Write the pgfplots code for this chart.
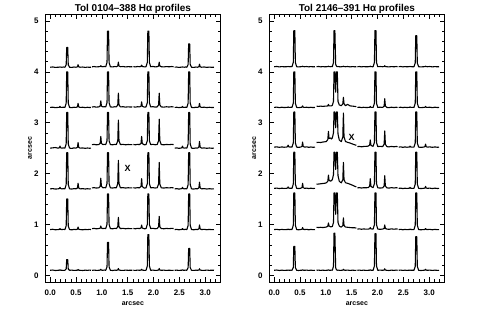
\documentclass[border=0pt]{standalone}
\usepackage{fontspec}
\setmainfont{Liberation Sans}
\usepackage{pgfplots}
\usepackage{pgfplotstable}
\pgfplotsset{compat=1.18}

\pgfplotstableread{
x y0 y1 y2 y3 y4 y5
0.00 0.100 0.900 1.700 2.500 3.300 4.090
0.05 0.105 0.906 1.705 2.506 3.305 4.095
0.10 0.095 0.896 1.696 2.512 3.296 4.086
0.15 0.100 0.900 1.700 2.500 3.300 4.090
0.178 0.102 0.903 1.705 2.506 3.303 4.091
0.19 0.110 0.920 1.730 2.540 3.320 4.095
0.202 0.102 0.903 1.705 2.506 3.303 4.091
0.23 0.100 0.900 1.700 2.500 3.300 4.090
0.255 0.097 0.905 1.704 2.505 3.305 4.094
0.285 0.100 0.900 1.700 2.500 3.300 4.090
0.31 0.125 0.972 1.785 2.584 3.384 4.137
0.32 0.310 1.500 2.410 3.200 4.000 4.480
0.34 0.310 1.500 2.410 3.200 4.000 4.480
0.35 0.125 0.972 1.785 2.584 3.384 4.137
0.375 0.100 0.900 1.700 2.500 3.300 4.090
0.42 0.104 0.895 1.696 2.495 3.296 4.086
0.46 0.097 0.904 1.705 2.505 3.304 4.094
0.50 0.100 0.900 1.700 2.500 3.300 4.090
0.528 0.102 0.908 1.717 2.517 3.312 4.098
0.54 0.115 0.950 1.810 2.610 3.380 4.140
0.552 0.102 0.908 1.717 2.517 3.312 4.098
0.58 0.100 0.900 1.700 2.500 3.300 4.090
0.63 0.096 0.896 1.704 2.504 3.304 4.094
0.68 0.103 0.903 1.697 2.496 3.296 4.086
0.72 0.098 0.898 1.703 2.503 3.303 4.093
0.76 0.104 0.905 1.698 2.498 3.298 4.088
0.79 0.100 0.900 1.700 2.500 3.300 4.090
0.80 nan nan nan nan nan nan
0.81 0.098 0.918 1.718 2.568 3.308 4.098
0.85 0.104 0.924 1.724 2.574 3.314 4.104
0.89 0.099 0.915 1.716 2.566 3.306 4.096
0.94 0.100 0.920 1.720 2.570 3.310 4.100
0.968 0.103 0.928 1.749 2.594 3.328 4.103
0.98 0.120 0.970 1.910 2.730 3.430 4.120
0.992 0.103 0.928 1.749 2.594 3.328 4.103
1.02 0.100 0.920 1.720 2.570 3.310 4.100
1.045 0.105 0.924 1.725 2.575 3.315 4.105
1.075 0.100 0.920 1.720 2.570 3.310 4.100
1.10 0.166 1.002 1.803 2.645 3.393 4.184
1.11 0.650 1.600 2.410 3.200 4.000 4.800
1.13 0.650 1.600 2.410 3.200 4.000 4.800
1.14 0.166 1.002 1.803 2.645 3.393 4.184
1.165 0.100 0.920 1.720 2.570 3.310 4.100
1.21 0.096 0.915 1.716 2.566 3.306 4.096
1.25 0.103 0.925 1.724 2.574 3.314 4.104
1.28 0.100 0.920 1.720 2.570 3.310 4.100
1.308 0.105 0.953 1.801 2.642 3.350 4.114
1.32 0.135 1.140 2.260 3.050 3.580 4.190
1.332 0.105 0.953 1.801 2.642 3.350 4.114
1.36 0.100 0.920 1.720 2.570 3.310 4.100
1.41 0.097 0.924 1.724 2.574 3.314 4.104
1.46 0.104 0.916 1.716 2.566 3.306 4.096
1.51 0.099 0.922 1.722 2.572 3.312 4.102
1.55 0.102 0.918 1.718 2.568 3.308 4.098
1.59 0.100 0.920 1.720 2.570 3.310 4.100
1.60 nan nan nan nan nan nan
1.61 0.101 0.922 1.722 2.572 3.312 4.102
1.65 0.097 0.916 1.716 2.566 3.306 4.096
1.69 0.104 0.924 1.724 2.574 3.314 4.104
1.73 0.100 0.920 1.720 2.570 3.310 4.100
1.758 0.103 0.931 1.747 2.594 3.325 4.105
1.77 0.120 0.990 1.900 2.730 3.410 4.130
1.782 0.103 0.931 1.747 2.594 3.325 4.105
1.81 0.100 0.920 1.720 2.570 3.310 4.100
1.83 0.098 0.915 1.716 2.566 3.306 4.096
1.855 0.100 0.920 1.720 2.570 3.310 4.100
1.88 0.184 1.002 1.803 2.645 3.393 4.184
1.89 0.800 1.600 2.410 3.200 4.000 4.800
1.91 0.800 1.600 2.410 3.200 4.000 4.800
1.92 0.184 1.002 1.803 2.645 3.393 4.184
1.945 0.100 0.920 1.720 2.570 3.310 4.100
1.99 0.104 0.925 1.724 2.575 3.315 4.105
2.03 0.098 0.917 1.717 2.567 3.307 4.097
2.07 0.100 0.920 1.720 2.570 3.310 4.100
2.098 0.105 0.956 1.795 2.645 3.350 4.114
2.11 0.135 1.160 2.220 3.070 3.580 4.190
2.122 0.105 0.956 1.795 2.645 3.350 4.114
2.15 0.100 0.920 1.720 2.570 3.310 4.100
2.20 0.103 0.916 1.716 2.566 3.306 4.096
2.25 0.097 0.923 1.723 2.573 3.313 4.103
2.30 0.102 0.918 1.718 2.568 3.308 4.098
2.35 0.098 0.924 1.724 2.574 3.314 4.104
2.39 0.100 0.920 1.720 2.570 3.310 4.100
2.40 nan nan nan nan nan nan
2.41 0.100 0.900 1.700 2.500 3.300 4.090
2.45 0.103 0.904 1.704 2.505 3.304 4.094
2.49 0.097 0.896 1.696 2.496 3.296 4.086
2.52 0.100 0.900 1.700 2.500 3.300 4.090
2.548 0.102 0.903 1.705 2.506 3.303 4.092
2.56 0.110 0.920 1.730 2.540 3.320 4.100
2.572 0.102 0.903 1.705 2.506 3.303 4.092
2.60 0.100 0.900 1.700 2.500 3.300 4.090
2.62 0.104 0.906 1.705 2.505 3.305 4.095
2.645 0.100 0.900 1.700 2.500 3.300 4.090
2.67 0.152 0.984 1.785 2.584 3.384 4.145
2.68 0.530 1.600 2.410 3.200 4.000 4.550
2.70 0.530 1.600 2.410 3.200 4.000 4.550
2.71 0.152 0.984 1.785 2.584 3.384 4.145
2.735 0.100 0.900 1.700 2.500 3.300 4.090
2.78 0.097 0.896 1.696 2.496 3.296 4.086
2.82 0.103 0.904 1.704 2.504 3.304 4.094
2.85 0.100 0.900 1.700 2.500 3.300 4.090
2.878 0.105 0.914 1.720 2.520 3.312 4.099
2.89 0.130 0.990 1.830 2.630 3.380 4.150
2.902 0.105 0.914 1.720 2.520 3.312 4.099
2.93 0.100 0.900 1.700 2.500 3.300 4.090
2.98 0.098 0.905 1.705 2.505 3.305 4.095
3.03 0.104 0.897 1.697 2.497 3.297 4.087
3.08 0.099 0.903 1.703 2.503 3.303 4.093
3.13 0.102 0.898 1.698 2.498 3.298 4.088
3.17 0.100 0.900 1.700 2.500 3.300 4.090
}\lefttab

\pgfplotstableread{
x y0 y1 y2 y3 y4 y5
0.00 0.100 0.900 1.710 2.520 3.300 4.100
0.05 0.105 0.905 1.715 2.525 3.306 4.105
0.10 0.096 0.896 1.706 2.516 3.296 4.096
0.15 0.103 0.904 1.713 2.524 3.304 4.103
0.19 0.098 0.898 1.708 2.518 3.298 4.098
0.23 0.100 0.900 1.710 2.520 3.300 4.100
0.258 0.101 0.902 1.715 2.526 3.302 4.101
0.27 0.105 0.910 1.740 2.560 3.310 4.105
0.282 0.101 0.902 1.715 2.526 3.302 4.101
0.31 0.100 0.900 1.710 2.520 3.300 4.100
0.325 0.104 0.905 1.714 2.524 3.305 4.104
0.345 0.100 0.900 1.710 2.520 3.300 4.100
0.37 0.156 0.986 1.795 2.603 3.384 4.185
0.38 0.570 1.620 2.420 3.210 4.000 4.810
0.40 0.570 1.620 2.420 3.210 4.000 4.810
0.41 0.156 0.986 1.795 2.603 3.384 4.185
0.435 0.100 0.900 1.710 2.520 3.300 4.100
0.47 0.096 0.896 1.706 2.516 3.296 4.096
0.51 0.100 0.900 1.710 2.520 3.300 4.100
0.538 0.102 0.906 1.725 2.535 3.305 4.102
0.55 0.110 0.940 1.810 2.620 3.330 4.110
0.562 0.102 0.906 1.725 2.535 3.305 4.102
0.59 0.100 0.900 1.710 2.520 3.300 4.100
0.63 0.104 0.905 1.714 2.525 3.304 4.104
0.67 0.097 0.896 1.706 2.516 3.297 4.097
0.71 0.103 0.904 1.713 2.523 3.303 4.103
0.75 0.098 0.898 1.707 2.517 3.298 4.098
0.79 0.100 0.900 1.710 2.520 3.300 4.100
0.805 nan nan nan nan nan nan
0.82 0.100 0.945 1.790 2.610 3.325 4.100
0.86 0.104 0.940 1.795 2.615 3.320 4.105
0.90 0.097 0.945 1.800 2.610 3.326 4.097
0.94 0.103 0.940 1.805 2.620 3.320 4.103
0.98 0.098 0.945 1.810 2.625 3.325 4.098
1.01 0.100 0.950 1.820 2.630 3.325 4.100
1.038 0.102 0.965 1.850 2.670 3.330 4.102
1.05 0.110 1.030 1.970 2.830 3.360 4.110
1.062 0.102 0.970 1.870 2.690 3.330 4.102
1.09 0.100 0.955 1.850 2.700 3.330 4.100
1.105 0.104 0.955 1.860 2.680 3.330 4.104
1.125 0.100 0.960 1.880 2.700 3.340 4.100
1.148 0.180 1.040 1.980 2.800 3.420 4.180
1.158 0.830 1.620 2.420 3.210 4.000 4.810
1.175 0.830 1.620 2.420 3.210 4.000 4.810
1.19 0.150 1.200 2.080 2.900 3.600 4.150
1.205 0.110 1.620 2.420 3.210 4.000 4.110
1.222 0.100 1.620 2.420 3.210 4.000 4.100
1.235 0.104 1.040 1.960 2.780 3.420 4.104
1.26 0.100 0.970 1.850 2.660 3.350 4.100
1.28 0.097 0.955 1.830 2.640 3.340 4.097
1.30 0.100 0.950 1.820 2.630 3.335 4.100
1.328 0.103 0.980 1.880 2.720 3.370 4.102
1.34 0.120 1.130 2.220 3.190 3.500 4.110
1.352 0.103 0.980 1.880 2.720 3.370 4.102
1.38 0.100 0.950 1.820 2.630 3.335 4.100
1.42 0.104 0.945 1.810 2.615 3.360 4.104
1.47 0.097 0.940 1.790 2.600 3.330 4.097
1.52 0.103 0.935 1.770 2.580 3.325 4.103
1.56 0.098 0.935 1.750 2.565 3.320 4.098
1.59 0.100 0.930 1.740 2.555 3.315 4.100
1.60 nan nan nan nan nan nan
1.61 0.100 0.910 1.720 2.530 3.300 4.100
1.65 0.104 0.914 1.724 2.534 3.305 4.104
1.69 0.097 0.906 1.716 2.526 3.296 4.097
1.73 0.103 0.913 1.723 2.533 3.303 4.103
1.78 0.098 0.908 1.722 2.535 3.298 4.098
1.82 0.100 0.910 1.725 2.540 3.300 4.100
1.848 0.102 0.915 1.752 2.560 3.303 4.102
1.86 0.110 0.940 1.900 2.660 3.320 4.110
1.872 0.102 0.915 1.752 2.560 3.303 4.102
1.90 0.100 0.910 1.730 2.540 3.300 4.100
1.915 0.100 0.910 1.725 2.535 3.300 4.100
1.94 0.186 0.995 1.804 2.612 3.384 4.185
1.95 0.820 1.620 2.420 3.210 4.000 4.810
1.97 0.820 1.620 2.420 3.210 4.000 4.810
1.98 0.186 0.995 1.804 2.612 3.384 4.185
2.005 0.100 0.910 1.720 2.530 3.300 4.100
2.05 0.104 0.905 1.716 2.535 3.305 4.104
2.10 0.100 0.910 1.720 2.530 3.300 4.100
2.128 0.105 0.922 1.756 2.577 3.326 4.103
2.14 0.130 0.990 1.960 2.840 3.470 4.120
2.152 0.105 0.922 1.756 2.577 3.326 4.103
2.18 0.100 0.910 1.720 2.530 3.300 4.100
2.22 0.096 0.905 1.715 2.525 3.296 4.096
2.27 0.103 0.914 1.724 2.534 3.304 4.103
2.32 0.098 0.907 1.717 2.527 3.298 4.098
2.36 0.104 0.913 1.723 2.533 3.304 4.104
2.39 0.100 0.910 1.720 2.530 3.300 4.100
2.40 nan nan nan nan nan nan
2.41 0.100 0.900 1.710 2.520 3.300 4.100
2.45 0.104 0.905 1.714 2.525 3.304 4.104
2.49 0.097 0.896 1.706 2.516 3.297 4.097
2.53 0.103 0.904 1.713 2.524 3.303 4.103
2.57 0.098 0.898 1.708 2.518 3.298 4.098
2.59 0.100 0.900 1.710 2.520 3.300 4.100
2.618 0.101 0.902 1.713 2.523 3.302 4.101
2.63 0.105 0.910 1.730 2.540 3.310 4.105
2.642 0.101 0.902 1.713 2.523 3.302 4.101
2.67 0.100 0.900 1.710 2.520 3.300 4.100
2.705 0.100 0.900 1.710 2.520 3.300 4.100
2.73 0.179 0.986 1.795 2.603 3.384 4.173
2.74 0.760 1.620 2.420 3.210 4.000 4.710
2.76 0.760 1.620 2.420 3.210 4.000 4.710
2.77 0.179 0.986 1.795 2.603 3.384 4.173
2.795 0.100 0.900 1.710 2.520 3.300 4.100
2.84 0.096 0.896 1.706 2.516 3.296 4.096
2.89 0.100 0.900 1.710 2.520 3.300 4.100
2.918 0.103 0.903 1.716 2.529 3.303 4.102
2.93 0.120 0.920 1.750 2.580 3.320 4.110
2.942 0.103 0.903 1.716 2.529 3.303 4.102
2.97 0.100 0.900 1.710 2.520 3.300 4.100
3.01 0.104 0.905 1.715 2.525 3.305 4.104
3.06 0.097 0.896 1.706 2.516 3.296 4.097
3.11 0.103 0.904 1.714 2.524 3.304 4.103
3.16 0.098 0.898 1.707 2.517 3.298 4.098
3.19 0.100 0.900 1.710 2.520 3.300 4.100
}\righttab

\pgfplotsset{panel/.style={
  scale only axis, width=175.7bp, height=267.7bp, anchor=south west,
  xmin=-0.1, xmax=3.3, ymin=-0.13, ymax=5.13,
  xtick={0,0.5,...,3}, ytick={0,1,...,5},
  minor xtick={-0.1,0,...,3.3}, minor ytick={0,0.2,...,5},
  tick align=inside, major tick length=5bp, minor tick length=2.5bp,
  tick style={black, line width=0.6bp},
  axis line style={line width=0.8bp},
  unbounded coords=jump,
  tick label style={font=\fontsize{8}{9}\selectfont\bfseries, /pgf/number format/assume math mode=true},
  xticklabel style={/pgf/number format/.cd, fixed, fixed zerofill, precision=1},
  xticklabel shift=4bp, yticklabel shift=3bp,
  xlabel={arcsec}, ylabel={arcsec},
  every axis x label/.style={at={(axis description cs:0.5,0)}, anchor=base, yshift=-23bp, font=\fontsize{7}{8}\selectfont\bfseries},
  every axis y label/.style={at={(axis description cs:-0.074,0.5)}, rotate=90, anchor=base, font=\fontsize{7}{8}\selectfont\bfseries},
  every axis title/.style={at={(axis description cs:0.5,1)}, anchor=base, yshift=2.5bp, font=\fontsize{10}{12}\selectfont\bfseries},
}}
\tikzset{trace/.style={black, line width=1.1bp, line join=round}}

\begin{document}
\begin{tikzpicture}
\useasboundingbox (0,0) rectangle (491bp,313bp);
\begin{axis}[panel, at={(45bp,31bp)}, title={Tol 0104\textendash388 Hα profiles}]
\addplot[trace] table[x=x,y=y0]{\lefttab};
\addplot[trace] table[x=x,y=y1]{\lefttab};
\addplot[trace] table[x=x,y=y2]{\lefttab};
\addplot[trace] table[x=x,y=y3]{\lefttab};
\addplot[trace] table[x=x,y=y4]{\lefttab};
\addplot[trace] table[x=x,y=y5]{\lefttab};
\node[font=\fontsize{9}{10}\selectfont\bfseries] at (axis cs:1.5,2.11) {X};
\end{axis}
\begin{axis}[panel, at={(269bp,31bp)}, title={Tol 2146\textendash391 Hα profiles}]
\addplot[trace] table[x=x,y=y0]{\righttab};
\addplot[trace] table[x=x,y=y1]{\righttab};
\addplot[trace] table[x=x,y=y2]{\righttab};
\addplot[trace] table[x=x,y=y3]{\righttab};
\addplot[trace] table[x=x,y=y4]{\righttab};
\addplot[trace] table[x=x,y=y5]{\righttab};
\node[font=\fontsize{9}{10}\selectfont\bfseries] at (axis cs:1.5,2.72) {X};
\end{axis}
\end{tikzpicture}
\end{document}
